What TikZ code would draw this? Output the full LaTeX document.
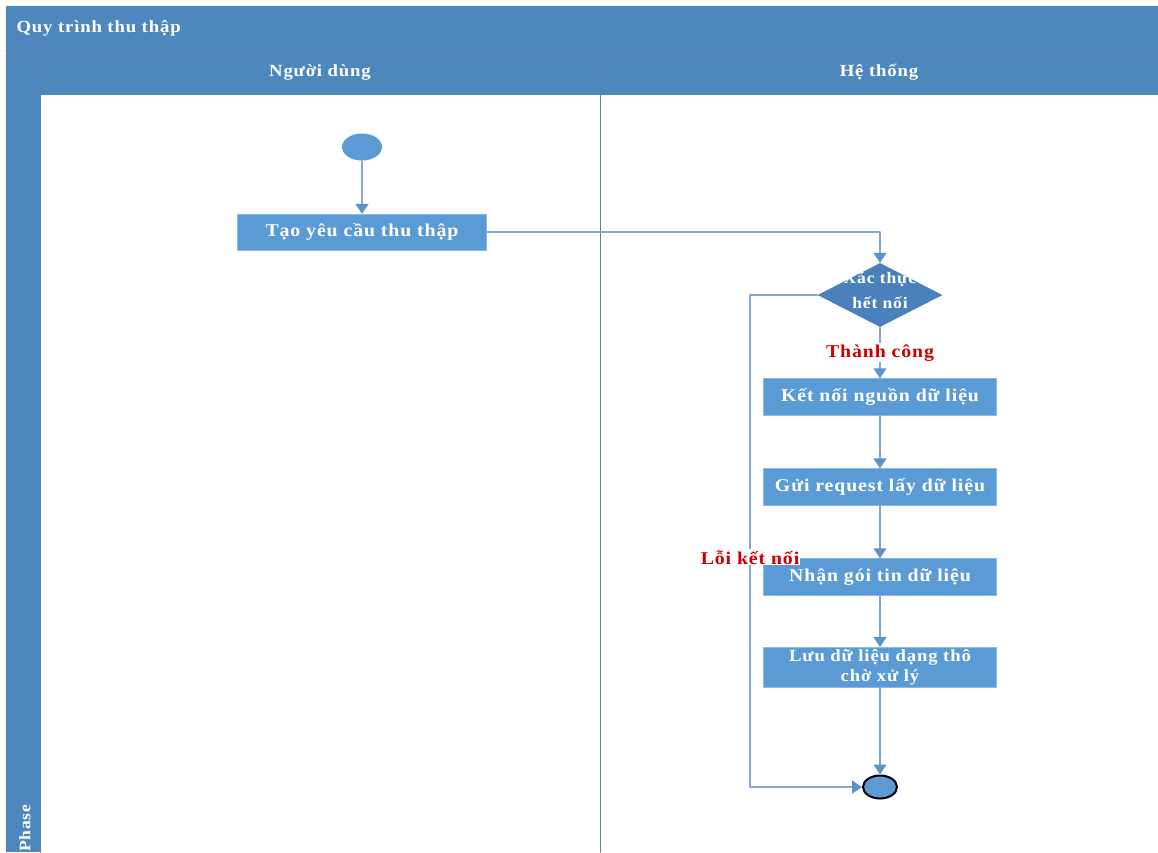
\documentclass[tikz,border=0pt]{standalone}
\usepackage{fontspec}
\setmainfont{Liberation Serif}[FakeStretch=1.1, LetterSpace=5]
\usetikzlibrary{arrows.meta,shapes.geometric}

\definecolor{hdrblue}{HTML}{4E87BE}
\definecolor{boxblue}{HTML}{5B9BD5}
\definecolor{diablue}{HTML}{4A80BC}
\definecolor{lineblue}{HTML}{80A8D0}
\definecolor{tipblue}{HTML}{5B93CC}
\definecolor{sepblue}{HTML}{5A7FA8}
\definecolor{errred}{HTML}{CC0000}

\begin{document}
\begin{tikzpicture}[
  x=1pt, y=-1pt,
  line cap=round,
  line join=round,
  flow/.style={draw=lineblue, line width=1.5pt,
    -{Triangle[width=13pt,length=10pt,color=tipblue]}},
  hdrtext/.style={text=white, font=\fontsize{17}{20}\selectfont\bfseries},
  task/.style={rectangle, fill=boxblue, draw=boxblue!70!white,
    minimum width=233pt, minimum height=37pt, inner sep=2pt,
    text=white, align=center, font=\fontsize{18}{19}\selectfont\bfseries},
  decision/.style={diamond, fill=diablue, minimum width=125pt,
    minimum height=64pt, inner sep=0pt},
  startend/.style={ellipse, fill=boxblue, inner sep=0pt},
  guard/.style={text=errred, fill=white, inner sep=1pt,
    font=\fontsize{18}{20}\selectfont\bfseries}
]
  % Khung
  \useasboundingbox (0,0) rectangle (1158,852);
  \fill[white] (0,0) rectangle (1158,852);

  % Tieu de va cac lan
  \fill[hdrblue] (6,6) rectangle (1158,50);
  \fill[hdrblue] (6,50) rectangle (40,852);
  \fill[hdrblue] (40,50) rectangle (1158,95);
  \draw[sepblue, line width=1pt] (6,50) -- (1158,50);
  \draw[sepblue, line width=1pt] (40,50) -- (40,852);
  \draw[sepblue, line width=1pt] (600,50) -- (600,852);

  \node[hdrtext, anchor=west] (pool) at (13,28) {Quy trình thu thập};
  \node[hdrtext] (user) at (320,72) {Người dùng};
  \node[hdrtext] (system) at (879,72) {Hệ thống};
  \node[text=white, rotate=90, anchor=west, inner sep=0pt,
    font=\fontsize{16}{18}\selectfont\bfseries] (phase) at (25,852) {Phase};

  % Nguoi dung
  \node[startend, minimum width=40pt, minimum height=27pt] (start) at (362,147) {};
  \node[task, minimum width=249pt, minimum height=36pt] (req) at (362,232) {Tạo yêu cầu thu thập};

  % He thong
  \node[decision] (check) at (880,295) {};
  \node[hdrtext, align=center, inner sep=0pt,
    font=\fontsize{16}{18}\selectfont\bfseries] (checktxt) at (880,291) {Xác thực\\[7pt]hết nối};
  \node[task] (conn) at (880,397) {Kết nối nguồn dữ liệu};
  \node[task] (send) at (880,487) {Gửi request lấy dữ liệu};
  \node[task] (recv) at (880,577) {Nhận gói tin dữ liệu};
  \node[task, font=\fontsize{17}{20}\selectfont\bfseries] (store) at (880,667) {Lưu dữ liệu dạng thô\\chờ xử lý};
  \node[startend, draw=black, line width=2pt, minimum width=34pt,
    minimum height=23pt] (finish) at (880,787) {};

  % Vong loi
  \coordinate (loopA) at (750,295);
  \coordinate (loopB) at (750,787);

  % Luong
  \draw[flow] (start) -- (req);
  \draw[flow] (req.east) -| (check.north);
  \draw[flow] (check.south) -- node[guard] (ok) {Thành công} (conn.north);
  \draw[flow] (conn) -- (send);
  \draw[flow] (send) -- (recv);
  \draw[flow] (recv) -- (store);
  \draw[flow] (store) -- (finish);
  \draw[flow] (check.west) -- (loopA)
    -- node[guard, pos=0.533] (fail) {Lỗi kết nối} (loopB) -- (finish.west);
\end{tikzpicture}
\end{document}
